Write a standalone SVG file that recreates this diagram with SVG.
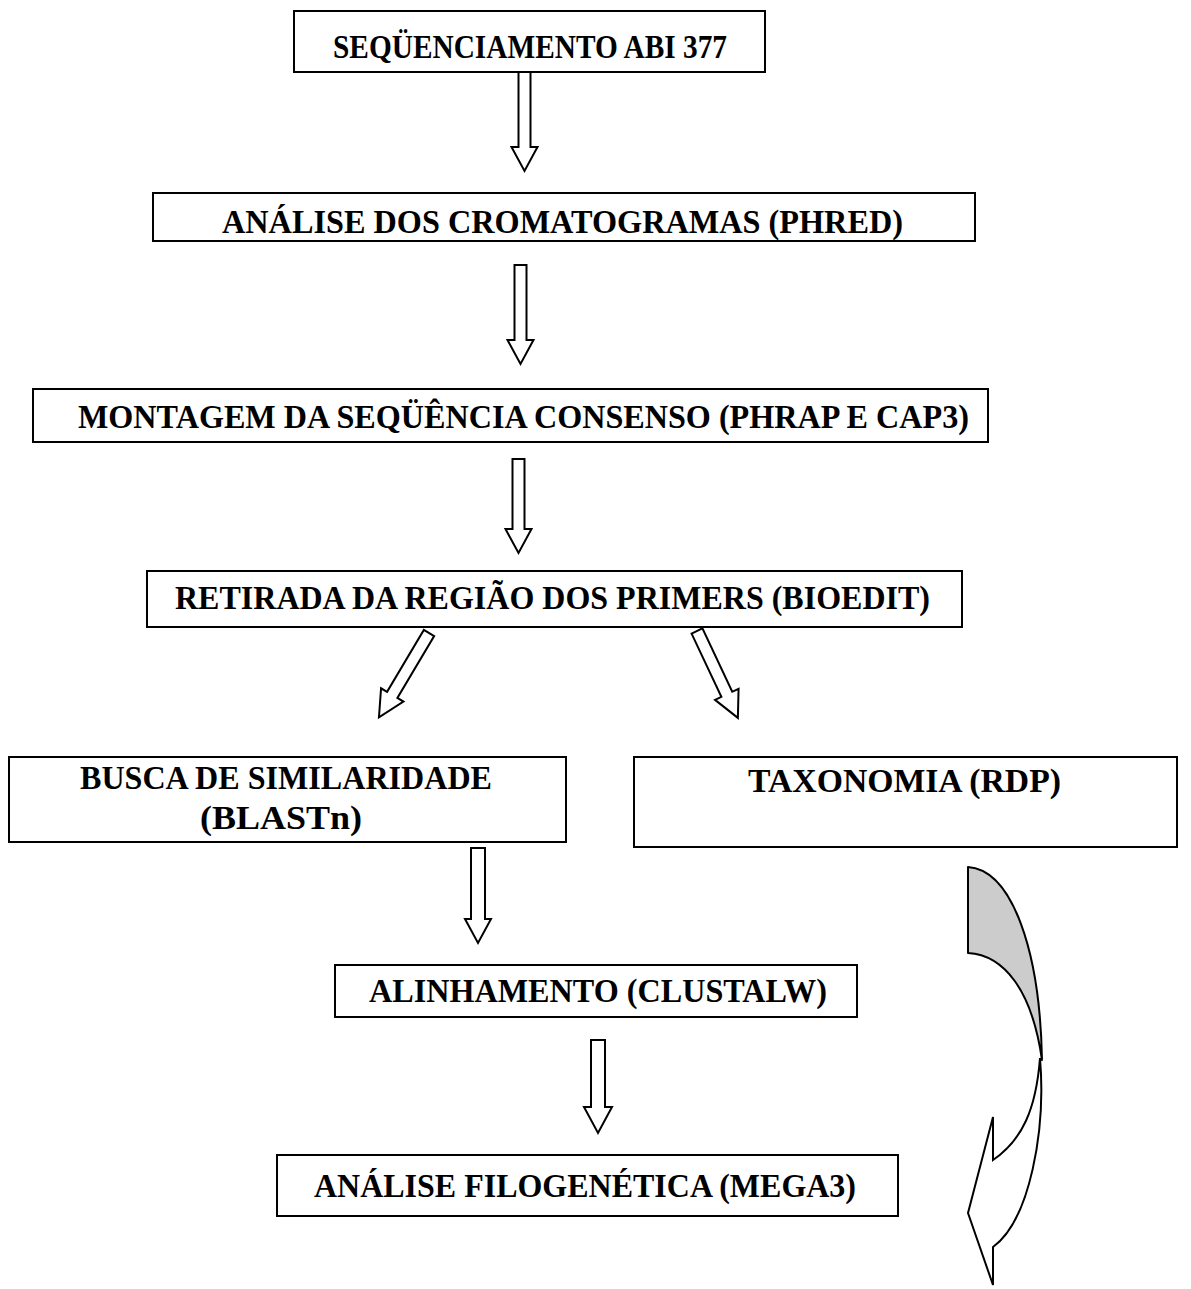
<svg xmlns="http://www.w3.org/2000/svg" width="1191" height="1289" viewBox="0 0 1191 1289">
<style>
.box{fill:#fff;stroke:#000;stroke-width:2}
.t{font-family:"Liberation Serif","Times New Roman",serif;font-weight:bold;font-size:33px;fill:#000;text-anchor:middle}
.arr{fill:#fff;stroke:#000;stroke-width:2;stroke-linejoin:miter}
</style>
<rect width="1191" height="1289" fill="#fff"/>
<g id="n1"><rect class="box" x="294" y="11" width="471" height="61"/><text class="t" x="530" y="58" textLength="394" lengthAdjust="spacingAndGlyphs">SEQÜENCIAMENTO ABI 377</text></g>
<g id="n2"><rect class="box" x="153" y="193" width="822" height="48"/><text class="t" x="562.5" y="233" textLength="681" lengthAdjust="spacingAndGlyphs">ANÁLISE DOS CROMATOGRAMAS (PHRED)</text></g>
<g id="n3"><rect class="box" x="33" y="389" width="955" height="53"/><text class="t" x="523.5" y="428" textLength="891" lengthAdjust="spacingAndGlyphs">MONTAGEM DA SEQÜÊNCIA CONSENSO (PHRAP E CAP3)</text></g>
<g id="n4"><rect class="box" x="147" y="571" width="815" height="56"/><text class="t" x="552.5" y="609" textLength="755" lengthAdjust="spacingAndGlyphs">RETIRADA DA REGIÃO DOS PRIMERS (BIOEDIT)</text></g>
<g id="n5"><rect class="box" x="9" y="757" width="557" height="85"/><text class="t" x="286" y="789" textLength="412" lengthAdjust="spacingAndGlyphs">BUSCA DE SIMILARIDADE</text><text class="t" x="281" y="829" textLength="162" lengthAdjust="spacingAndGlyphs">(BLASTn)</text></g>
<g id="n6"><rect class="box" x="634" y="757" width="543" height="90"/><text class="t" x="904.5" y="792" textLength="313" lengthAdjust="spacingAndGlyphs">TAXONOMIA (RDP)</text></g>
<g id="n7"><rect class="box" x="335" y="965" width="522" height="52"/><text class="t" x="598" y="1002" textLength="458" lengthAdjust="spacingAndGlyphs">ALINHAMENTO (CLUSTALW)</text></g>
<g id="n8"><rect class="box" x="277" y="1155" width="621" height="61"/><text class="t" x="585" y="1197" textLength="542" lengthAdjust="spacingAndGlyphs">ANÁLISE FILOGENÉTICA (MEGA3)</text></g>
<g id="connectors">
<path class="arr" d="M518.5,72 L530.5,72 L530.5,147 L537.5,147 L524.5,171 L511.5,147 L518.5,147 Z"/>
<path class="arr" d="M514.5,265 L526.5,265 L526.5,340 L533.5,340 L520.5,364 L507.5,340 L514.5,340 Z"/>
<path class="arr" d="M512.5,459 L524.5,459 L524.5,529 L531.5,529 L518.5,553 L505.5,529 L512.5,529 Z"/>
<path class="arr" d="M471,848 L485,848 L485,919 L491,919 L478,943 L465,919 L471,919 Z"/>
<path class="arr" d="M591,1040 L605,1040 L605,1107 L612,1107 L598,1133 L584,1107 L591,1107 Z"/>
<path class="arr" transform="translate(429,633) rotate(30.7)" d="M-6,0 L6,0 L6,72 L13,72 L0,98 L-13,72 L-6,72 Z"/>
<path class="arr" transform="translate(697,631) rotate(-25.2)" d="M-6,0 L6,0 L6,70 L13,70 L0,96 L-13,70 L-6,70 Z"/>
<path d="M968,867 C1012,870 1040,950 1042,1060 C1032,990 1004,955 968,953 Z" fill="#cccccc" stroke="#000" stroke-width="2" stroke-linejoin="round"/>
<path class="arr" d="M1040,1058 C1046,1130 1030,1220 993,1247 L993,1285 L968,1213 L993,1117 L993,1160 C1022,1140 1036,1110 1040,1058 Z"/>
</g>
</svg>
